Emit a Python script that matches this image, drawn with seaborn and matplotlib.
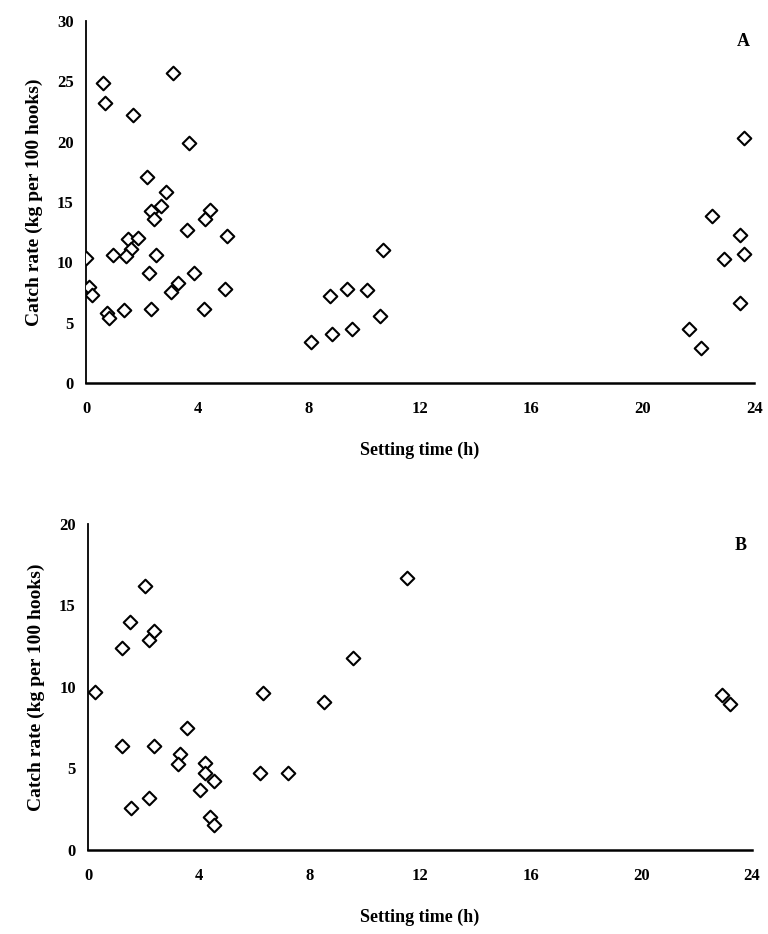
import matplotlib
matplotlib.use('Agg')
import matplotlib.pyplot as plt
import seaborn as sns
import pandas as pd

# Panel A: setting time (h) vs catch rate (kg per 100 hooks)
time_a = [0.0, 0.12, 0.22, 0.62, 0.68, 1.68, 3.11, 3.71, 2.2, 2.87, 2.70, 2.34, 2.45,
          4.46, 4.28, 3.61, 5.06, 1.51, 1.86, 1.62, 1.43, 0.96, 2.5, 2.28, 3.87, 3.3,
          3.04, 5.0, 2.35, 4.23, 1.35, 0.76, 0.84,
          8.07, 8.76, 8.84, 9.36, 9.54, 10.09, 10.56, 10.68,
          23.65, 22.49, 23.5, 23.63, 22.9, 23.48, 21.67, 22.09]
rate_a = [10.37, 7.92, 7.26, 24.9, 23.2, 22.2, 25.7, 19.9, 17.1, 15.85, 14.66, 14.27, 13.55,
          14.35, 13.55, 12.66, 12.14, 11.89, 12.0, 11.1, 10.56, 10.64, 10.64, 9.09, 9.09, 8.26,
          7.54, 7.76, 6.15, 6.15, 6.01, 5.79, 5.38,
          3.43, 7.23, 4.02, 7.79, 4.43, 7.73, 5.57, 11.06,
          20.3, 13.8, 12.28, 10.72, 10.28, 6.65, 4.51, 2.88]

# Panel B
time_b = [0.23, 2.04, 1.52, 2.36, 2.18, 1.23, 9.58, 6.32, 8.54, 3.57, 1.23, 2.36, 3.32,
          3.26, 4.22, 4.22, 4.53, 6.22, 7.23, 4.04, 2.18, 1.53, 4.4, 4.53,
          11.54, 22.91, 23.21]
rate_b = [9.67, 16.17, 14.01, 13.46, 12.89, 12.36, 11.76, 9.63, 9.06, 7.48, 6.37, 6.37, 5.86,
          5.27, 5.31, 4.73, 4.22, 4.73, 4.73, 3.67, 3.16, 2.6, 2.03, 1.52,
          16.66, 9.49, 8.96]

x_ticks = [0, 4, 8, 12, 16, 20, 24]

sns.set_style('white')
plt.rcParams['font.family'] = ['Liberation Serif', 'DejaVu Serif']
plt.rcParams['font.weight'] = 'bold'
plt.rcParams['text.color'] = 'black'
plt.rcParams['axes.labelcolor'] = 'black'

fig = plt.figure(figsize=(7.68, 9.34), dpi=100)
ax_a = fig.add_axes([0.112, 0.590, 0.870, 0.3875])
ax_b = fig.add_axes([0.115, 0.090, 0.864, 0.349])

panels = [
    (ax_a, time_a, rate_a, 30, [0, 5, 10, 15, 20, 25, 30], 'A', 28.3),
    (ax_b, time_b, rate_b, 20, [0, 5, 10, 15, 20], 'B', 18.65),
]

for ax, t, r, ymax, yticks, tag, tag_y in panels:
    df = pd.DataFrame({'time': t, 'rate': r})
    sns.scatterplot(data=df, x='time', y='rate', ax=ax, marker='D', s=48,
                    facecolor='white', edgecolor='black', linewidth=1.5, zorder=3)
    ax.set_xlim(0, 24)
    ax.set_ylim(0, ymax)
    ax.set_xticks(x_ticks)
    ax.set_yticks(yticks)
    ax.tick_params(axis='both', direction='out', length=3, width=1, labelsize=12,
                   colors='black', pad=10)
    ax.tick_params(axis='y', pad=6)
    for lab in ax.get_xticklabels() + ax.get_yticklabels():
        lab.set_fontweight('bold')
    sns.despine(ax=ax)
    ax.spines['left'].set_linewidth(1.3)
    ax.spines['bottom'].set_linewidth(1.8)
    ax.spines['left'].set_color('black')
    ax.spines['bottom'].set_color('black')
    ax.set_xlabel('Setting time (h)', fontsize=13, fontweight='bold', labelpad=18)
    ax.set_ylabel('Catch rate (kg per 100 hooks)', fontsize=14, fontweight='bold', labelpad=10)
    ax.text(23.6, tag_y, tag, fontsize=13, fontweight='bold', ha='center', va='center')

fig.savefig('out.png', dpi=100, facecolor='white')
